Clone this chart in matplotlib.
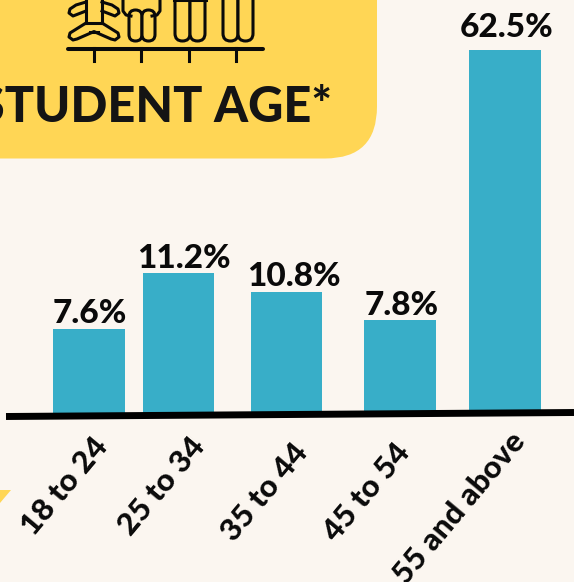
import matplotlib
matplotlib.use("Agg")
import matplotlib.pyplot as plt
from matplotlib.patches import FancyBboxPatch, Polygon

plt.rcParams["font.family"] = "Lato"

age_groups = ["18 to 24", "25 to 34", "35 to 44", "45 to 54", "55 and above"]
shares = ["7.6%", "11.2%", "10.8%", "7.8%", "62.5%"]
# bars in the original are not to scale, so these are the drawn heights
bar_heights = [85, 141, 122, 94, 364]

bar_x = [89, 178.5, 286.5, 400, 505]
bar_w = [72, 71, 71, 72, 72]
base = 414
share_x = [90, 183.5, 293.5, 401.5, 507]
share_y = [323, 268, 286, 315, 37]
label_x = [102, 200, 302, 405, 520]
label_y = [441, 441, 447, 447, 436]

fig = plt.figure(figsize=(5.74, 5.82), dpi=100, facecolor="#fbf6f0")
ax = fig.add_axes([0, 0, 1, 1])
ax.set_xlim(0, 574)
ax.set_ylim(582, 0)
ax.axis("off")

box = FancyBboxPatch((-100, -100), 477, 258.5, boxstyle="round,pad=0,rounding_size=52",
                     fc="#ffd655", ec="none")
ax.add_patch(box)
ax.add_patch(Polygon([(0, 490), (11, 490), (0, 503)], fc="#ffd655", ec="none"))

ax.text(332, 122, "STUDENT AGE*", ha="right", va="baseline", fontsize=35, fontweight=900,
        color="#141414")

# ruler and the little people on it
ink = "#0a0a0a"
ax.plot([68, 263], [48.5, 48.5], color=ink, lw=2.9, solid_capstyle="round")
for tx in [94, 141, 188.5, 236]:
    ax.plot([tx, tx], [48, 61], color=ink, lw=2.2)

for lx, top, w in [(129, 10, 13), (142, 10, 13), (175, -20, 15), (190, -20, 15), (223, -20, 15), (238, -20, 15)]:
    ax.add_patch(FancyBboxPatch((lx, top), w, 41 - top, boxstyle="round,pad=0,rounding_size=%g" % (w / 2),
                                fc="#ffd655", ec=ink, lw=2.2))
ax.plot([123, 123, 126, 131], [-5, 11, 15, 16], color=ink, lw=2.2)
ax.plot([160, 160, 157, 152], [-5, 11, 15, 16], color=ink, lw=2.2)
ax.plot([174, 206], [0, 0], color=ink, lw=2.2)

for sign in [-1, 1]:
    leg_x = [8, 24, 25, 21, 17, 1]
    leg_y = [23, 33, 37, 40, 39, 32]
    arm_x = [8, 18, 24, 25, 21, 8]
    arm_y = [2, 5, 9, 13, 16, 11]
    ax.plot([94 + sign * v for v in leg_x], leg_y, color=ink, lw=2.2, solid_joinstyle="round")
    ax.plot([94 + sign * v for v in arm_x], arm_y, color=ink, lw=2.2, solid_joinstyle="round")
    ax.plot([94 + sign * 8, 94 + sign * 8], [-5, 23], color=ink, lw=2.2)
ax.plot([86, 102], [23, 23], color=ink, lw=2.2)
ax.plot([90, 98], [32, 32], color=ink, lw=2.2)

ax.bar(bar_x, [-h for h in bar_heights], bottom=base, width=bar_w, color="#38aec8")
ax.plot([6, 574], [416.5, 412.5], color="black", lw=5, solid_capstyle="butt")

for x, y, s in zip(share_x, share_y, shares):
    ax.text(x, y, s, ha="center", va="baseline", fontsize=24, fontweight=900, color="#0a0a0a")

for x, y, g in zip(label_x, label_y, age_groups):
    ax.text(x, y, g, rotation=50, rotation_mode="anchor", ha="right", va="center", fontsize=22.5,
            fontweight=900, color="#0a0a0a")

fig.savefig("out.png", dpi=100, facecolor=fig.get_facecolor())
